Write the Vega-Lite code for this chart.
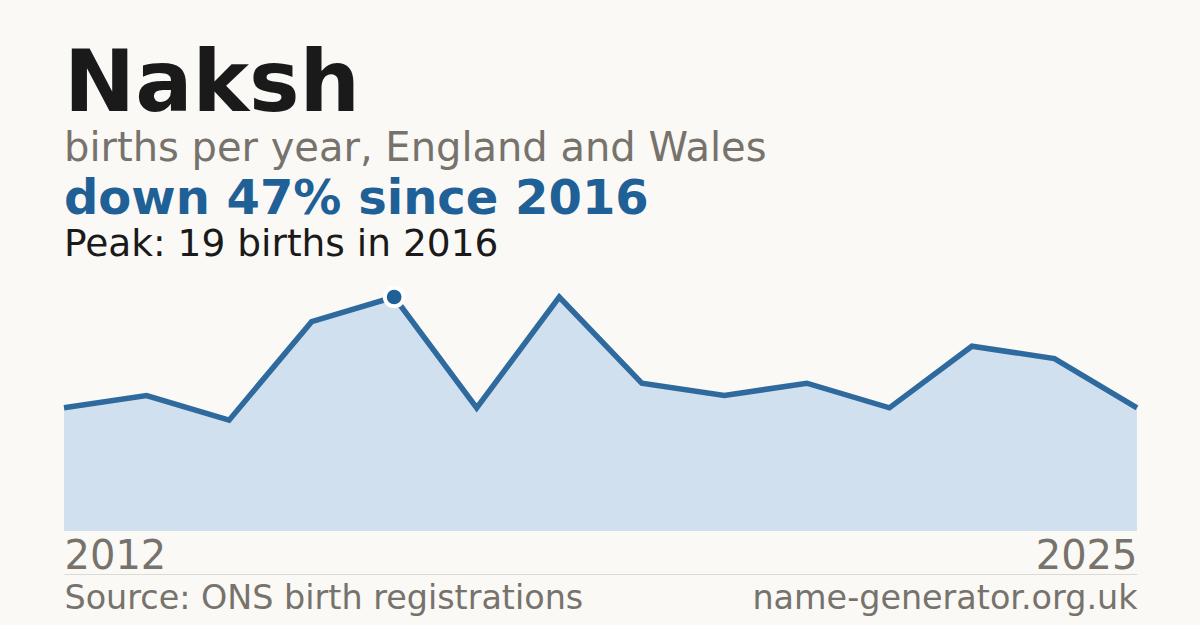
{
  "$schema": "https://vega.github.io/schema/vega-lite/v6.json",
  "background": "#faf9f5",
  "padding": {"left": 53, "right": 52, "top": 43, "bottom": 10},
  "title": {
    "text": "Naksh",
    "subtitle": "births per year, England and Wales",
    "anchor": "start",
    "dx": 11,
    "font": "DejaVu Sans",
    "fontSize": 85,
    "fontWeight": "bold",
    "color": "#1a1a1a",
    "subtitleFont": "DejaVu Sans",
    "subtitleFontSize": 40,
    "subtitleColor": "#77736c",
    "subtitlePadding": 0,
    "offset": 6
  },
  "data": {
    "values": [
      {"year": 2012, "births": 10},
      {"year": 2013, "births": 11},
      {"year": 2014, "births": 9},
      {"year": 2015, "births": 17},
      {"year": 2016, "births": 19},
      {"year": 2017, "births": 10},
      {"year": 2018, "births": 19},
      {"year": 2019, "births": 12},
      {"year": 2020, "births": 11},
      {"year": 2021, "births": 12},
      {"year": 2022, "births": 10},
      {"year": 2023, "births": 15},
      {"year": 2024, "births": 14},
      {"year": 2025, "births": 10}
    ]
  },
  "vconcat": [
    {
      "title": {
        "text": "down 47% since 2016",
        "subtitle": "Peak: 19 births in 2016",
        "anchor": "start",
        "dx": 11,
        "font": "DejaVu Sans",
        "fontSize": 48,
        "fontWeight": "bold",
        "color": "#1f6096",
        "subtitleFont": "DejaVu Sans",
        "subtitleFontSize": 37.5,
        "subtitleColor": "#1a1a1a",
        "subtitlePadding": 2,
        "offset": 16
      },
      "width": 1073,
      "height": 234,
      "encoding": {
        "x": {"field": "year", "type": "quantitative", "scale": {"domain": [2012, 2025], "nice": false, "zero": false}},
        "y": {"field": "births", "type": "quantitative", "scale": {"domain": [0, 19], "nice": false}, "axis": null}
      },
      "layer": [
        {
          "mark": {"type": "area", "color": "#d0e0ef"},
          "encoding": {
            "x": {
              "field": "year", "type": "quantitative",
              "axis": {
                "orient": "bottom", "values": [2012, 2025], "format": "d",
                "labelFlush": true, "labelFont": "DejaVu Sans", "labelFontSize": 40,
                "labelColor": "#77736c", "labelPadding": 5,
                "domain": false, "ticks": false, "grid": false, "title": null
              }
            }
          }
        },
        {
          "mark": {"type": "line", "color": "#2e6a9e", "strokeWidth": 5.5},
          "encoding": {
            "x": {
              "field": "year", "type": "quantitative",
              "axis": {
                "orient": "bottom", "offset": 43, "domain": true, "domainColor": "#dcdad4", "domainWidth": 1,
                "labels": false, "ticks": false, "grid": false,
                "title": "Source: ONS birth registrations", "titleAnchor": "start",
                "titleFont": "DejaVu Sans", "titleFontSize": 33.4, "titleFontWeight": "normal",
                "titleColor": "#77736c", "titlePadding": 8
              }
            }
          }
        },
        {
          "transform": [{"filter": "datum.year == 2016"}],
          "mark": {"type": "circle", "color": "#1f6096", "size": 350, "opacity": 1, "stroke": "#ffffff", "strokeWidth": 4},
          "encoding": {
            "x": {
              "field": "year", "type": "quantitative",
              "axis": {
                "orient": "bottom", "offset": 43, "domain": false,
                "labels": false, "ticks": false, "grid": false,
                "title": "name-generator.org.uk", "titleAnchor": "end",
                "titleFont": "DejaVu Sans", "titleFontSize": 33.4, "titleFontWeight": "normal",
                "titleColor": "#77736c", "titlePadding": 8
              }
            }
          }
        }
      ],
      "resolve": {"axis": {"x": "independent"}}
    }
  ],
  "config": {"view": {"stroke": null}, "concat": {"spacing": 0}}
}
